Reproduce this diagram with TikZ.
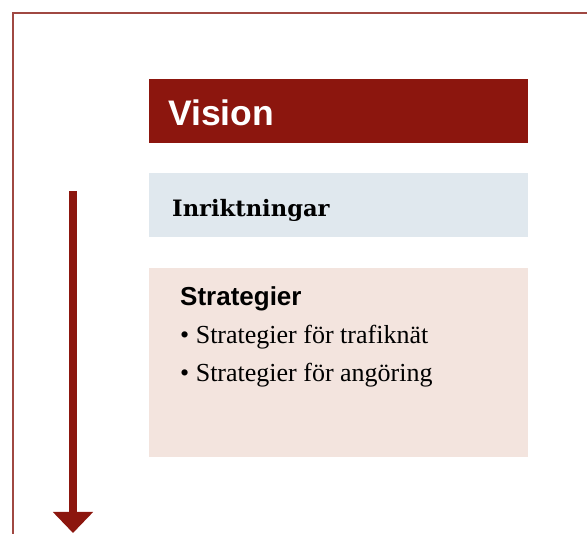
\documentclass[tikz,border=0pt]{standalone}
\usepackage{fontspec}
\usetikzlibrary{arrows.meta}
\newfontfamily\headsans{Liberation Sans}
\newfontfamily\bodyserif{Liberation Serif}
\newfontfamily\titleserif{DejaVu Serif}
\definecolor{visionred}{RGB}{140,22,14}
\definecolor{framered}{RGB}{160,72,66}
\definecolor{inrblue}{RGB}{224,232,238}
\definecolor{strpink}{RGB}{243,228,222}
\tikzset{
  panel/.style={anchor=north west, inner sep=0pt, minimum width=379pt},
  label/.style={anchor=base west, inner sep=0pt},
}

\begin{document}
\begin{tikzpicture}[x=1pt, y=-1pt]
\useasboundingbox (0,0) rectangle (587,534);
\draw[framered, line width=1.8pt] (13,534) -- (13,13) -- (587,13);
\node[panel, fill=visionred, minimum height=64pt] (vision) at (149,79) {};
\node[panel, fill=inrblue, minimum height=64pt] (inr) at (149,173) {};
\node[panel, fill=strpink, minimum height=189pt] (str) at (149,268) {};
\node[label, text=white, font=\headsans\bfseries\fontsize{35.5}{40}\selectfont] (visiontext) at (168,126) {Vision};
\node[label, font=\titleserif\bfseries\fontsize{22.6}{26}\selectfont] (inrtext) at (172,217) {Inriktningar};
\node[label, font=\headsans\bfseries\fontsize{26}{30}\selectfont] (strtext) at (180,306) {Strategier};
\node[label, font=\bodyserif\fontsize{26}{30}\selectfont] (trafik) at (180,344) {\textbullet\ Strategier för trafiknät};
\node[label, font=\bodyserif\fontsize{26}{30}\selectfont] (angor) at (180,382) {\textbullet\ Strategier för angöring};
\coordinate (flowtop) at (73,191);
\coordinate (flowend) at (73,533);
\draw[visionred, line width=8pt, -{Triangle[width=39pt, length=21pt]}] (flowtop) -- (flowend);
\end{tikzpicture}
\end{document}
